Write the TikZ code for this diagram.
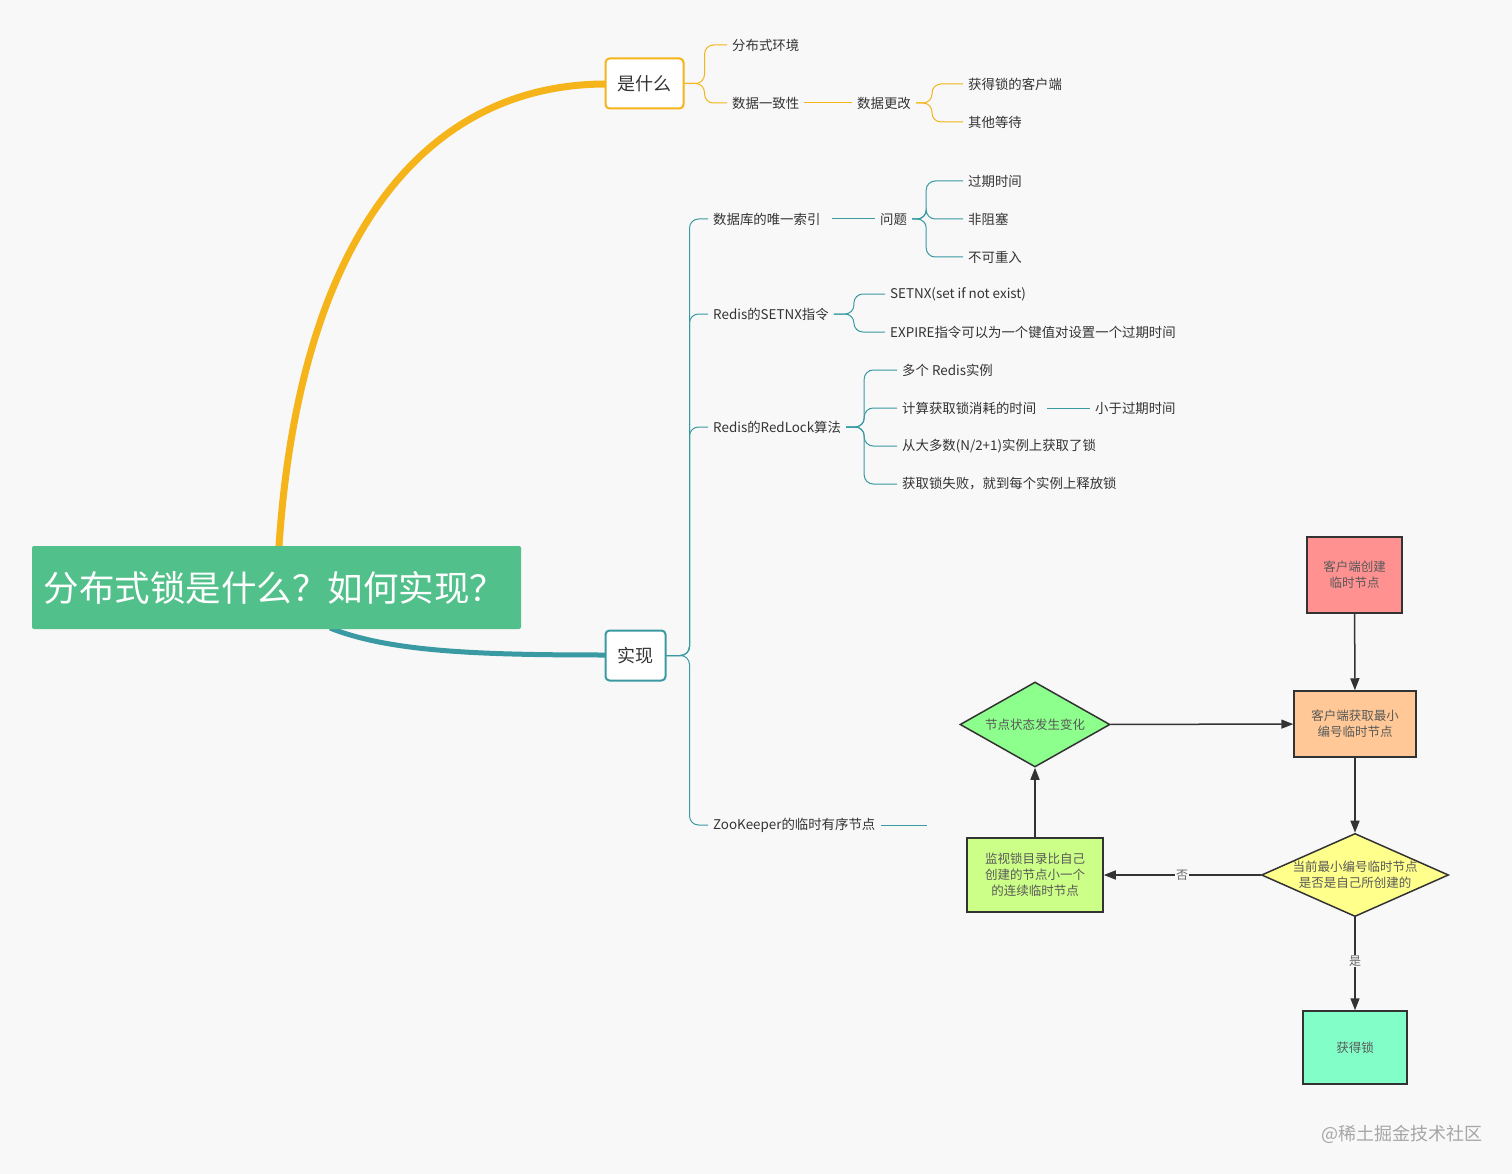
\documentclass[tikz,border=0pt]{standalone}
\usepackage{fontspec}
\setmainfont{Noto Sans CJK SC}
\usetikzlibrary{shapes.geometric,arrows.meta}
\definecolor{bg}{HTML}{F8F8F8}
\definecolor{yel}{HTML}{F5B41A}
\definecolor{teal2}{HTML}{3A9AA3}
\definecolor{maing}{HTML}{52C08A}
\definecolor{txt}{HTML}{333333}
\begin{document}
\begin{tikzpicture}[x=1pt,y=-1pt,
  t/.style={anchor=west,inner xsep=5pt,inner ysep=2pt,text=txt,font=\fontsize{13.4}{15}\selectfont},
  yb/.style={draw=yel,line width=1pt,rounded corners=9pt},
  tb/.style={draw=teal2,line width=1pt,rounded corners=9pt},
  fc/.style={draw=black!80,line width=1.5pt,text=black!65,align=center,font=\fontsize{12.5}{16}\selectfont},
  fa/.style={draw=black!80,line width=1.5pt,-{Triangle[length=12pt,width=9pt]}},
  lab/.style={fill=bg,text=black!60,font=\fontsize{12}{14}\selectfont,inner sep=1pt}]
\fill[bg] (0,0) rectangle (1512,1174);
\useasboundingbox (0,0) rectangle (1512,1174);
% thick branches
\draw[yel,line width=7pt] (279,546) .. controls (300,230) and (430,84) .. (606,84);
\draw[teal2,line width=5pt] (330,628) .. controls (390,652) and (480,655) .. (606,655);
% main node
\node[fill=maing,rounded corners=2pt,minimum width=489pt,minimum height=83pt,inner sep=0] (main) at (276.5,587.5) {};
\node[anchor=west,text=white,font=\fontsize{35.5}{38}\selectfont] (mt) at (40,588) {分布式锁是什么？如何实现？};
\node[draw=yel,line width=2pt,fill=white,rounded corners=4pt,minimum width=78pt,minimum height=50pt,font=\fontsize{18}{20}\selectfont,text=txt] (w) at (644.5,83.5) {是什么};
\node[draw=teal2,line width=2pt,fill=white,rounded corners=4pt,minimum width=60pt,minimum height=50pt,font=\fontsize{18}{20}\selectfont,text=txt] (s) at (635.5,655.5) {实现};
% yellow subtree
\node[t] (a1) at (727,45) {分布式环境};
\node[t] (a2) at (727,103) {数据一致性};
\node[t] (a3) at (852,103) {数据更改};
\node[t] (a4) at (963,84) {获得锁的客户端};
\node[t] (a5) at (963,122) {其他等待};
\draw[yb] (w.east) -- ++(20,0) |- (a1.west);
\draw[yb] (w.east) -- ++(20,0) |- (a2.west);
\draw[yel,line width=1pt] (a2.east) -- (a3.west);
\draw[yb] (a3.east) -- ++(16,0) |- (a4.west);
\draw[yb] (a3.east) -- ++(16,0) |- (a5.west);
% teal subtree
\node[t] (b1) at (708,219) {数据库的唯一索引};
\node[t] (b2) at (708,314) {Redis的SETNX指令};
\node[t] (b3) at (708,427) {Redis的RedLock算法};
\node[t] (b4) at (708,825) {ZooKeeper的临时有序节点};
\coordinate (b4e) at (927,825);
\foreach \c in {b1,b2,b3,b4} \draw[tb] (s.east) -- ++(23,0) |- (\c.west);
\draw[teal2,line width=1pt] (b4.east) -- (b4e);
\node[t] (c1) at (875,219) {问题};
\draw[teal2,line width=1pt] (b1.east) ++(6,0) -- (c1.west);
\node[t] (c2) at (963,181) {过期时间};
\node[t] (c3) at (963,219) {非阻塞};
\node[t] (c4) at (963,257) {不可重入};
\foreach \c in {c2,c3,c4} \draw[tb] (c1.east) -- ++(14,0) |- (\c.west);
\node[t] (d1) at (885,294) {SETNX(set if not exist)};
\node[t] (d2) at (885,332) {EXPIRE指令可以为一个键值对设置一个过期时间};
\foreach \c in {d1,d2} \draw[tb] (b2.east) -- ++(20,0) |- (\c.west);
\node[t] (e1) at (897,370) {多个 Redis实例};
\node[t] (e2) at (897,408) {计算获取锁消耗的时间};
\node[t] (e3) at (897,446) {从大多数(N/2+1)实例上获取了锁};
\node[t] (e4) at (897,484) {获取锁失败，就到每个实例上释放锁};
\foreach \c in {e1,e2,e3,e4} \draw[tb] (b3.east) -- ++(18,0) |- (\c.west);
\node[t] (e5) at (1090,408) {小于过期时间};
\draw[teal2,line width=1pt] (e2.east) ++(6,0) -- (e5.west);
% flowchart
\node[fc,fill={rgb,255:red,255;green,145;blue,145},minimum width=95pt,minimum height=76pt] (n1) at (1354.5,575) {客户端创建\\临时节点};
\node[fc,fill={rgb,255:red,255;green,200;blue,150},minimum width=122pt,minimum height=66pt] (n2) at (1355,724) {客户端获取最小\\编号临时节点};
\node[fc,diamond,aspect=2.25,fill={rgb,255:red,255;green,255;blue,140},minimum width=180pt,minimum height=80pt,inner sep=0] (q) at (1355,875) {当前最小编号临时节点\\是否是自己所创建的};
\node[fc,fill={rgb,255:red,130;green,255;blue,200},minimum width=104pt,minimum height=73pt] (n4) at (1355,1047.5) {获得锁};
\node[fc,fill={rgb,255:red,204;green,255;blue,136},minimum width=136pt,minimum height=74pt] (n5) at (1035,875) {监视锁目录比自己\\创建的节点小一个\\的连续临时节点};
\node[fc,diamond,aspect=1.76,fill={rgb,255:red,140;green,255;blue,140},minimum width=150pt,minimum height=85pt,inner sep=0] (q2) at (1035,724.5) {节点状态发生变化};
\draw[fa] (n1) -- (n2);
\draw[fa] (n2) -- (q);
\draw[fa] (q) -- node[lab,pos=0.47]{是} (n4);
\draw[fa] (q) -- node[lab,pos=0.5]{否} (n5);
\draw[fa] (n5) -- (q2);
\draw[fa] (q2) -- (n2);
\node[text=black!35,font=\fontsize{18}{20}\selectfont] (wm) at (1402,1134) {@稀土掘金技术社区};
\end{tikzpicture}
\end{document}
